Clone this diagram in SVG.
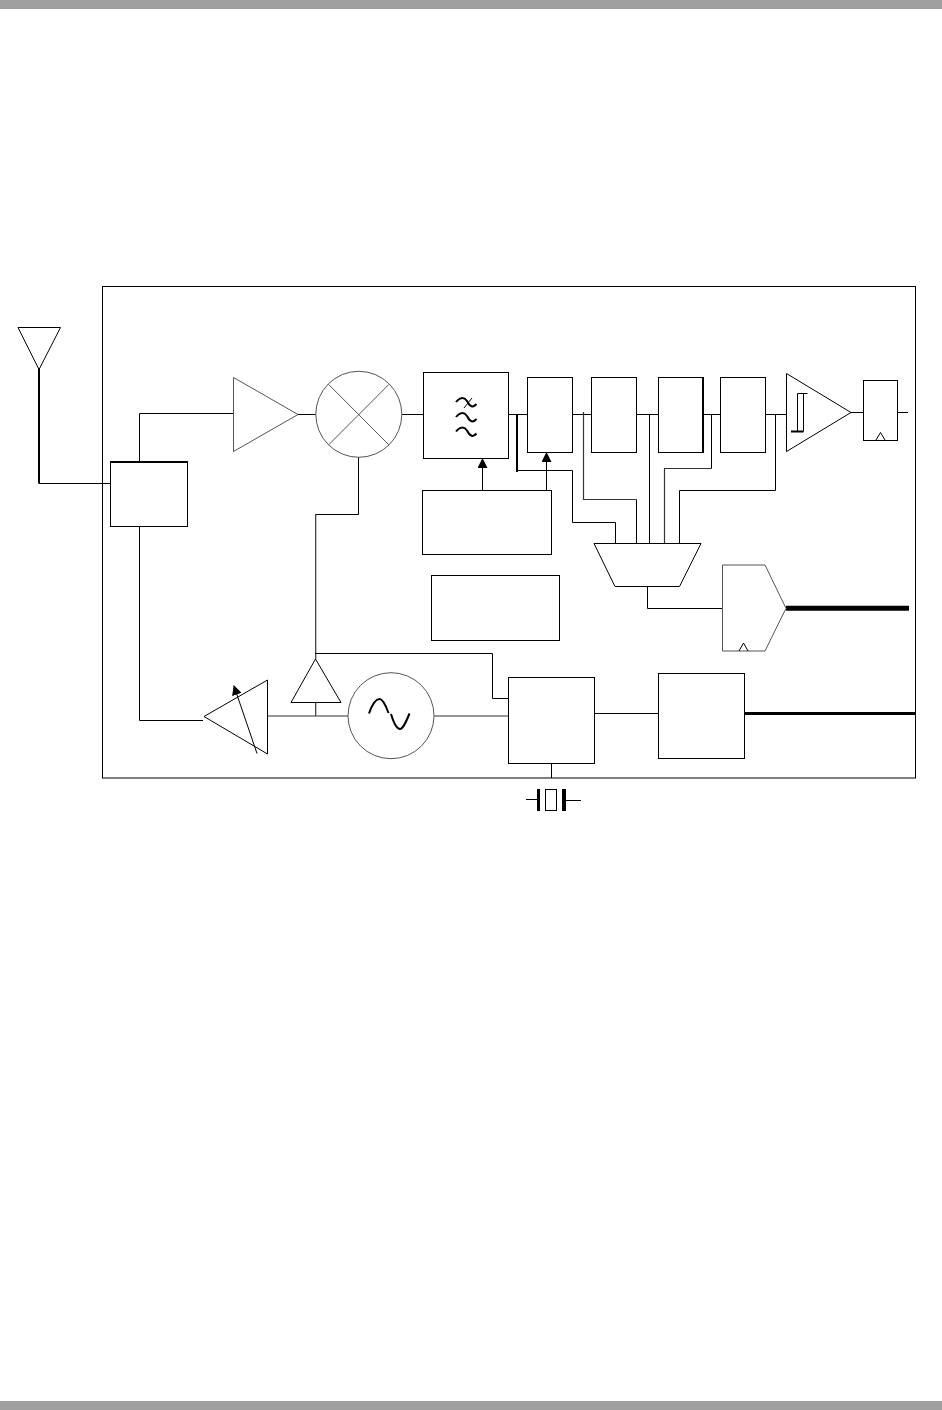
<svg xmlns="http://www.w3.org/2000/svg" width="942" height="1410" viewBox="0 0 942 1410">
<style>
.s{fill:#fff;stroke:#000;stroke-width:1}
.g{fill:#fff;stroke:#555;stroke-width:1}
.w{fill:none;stroke:#000;stroke-width:1}
.t{fill:none;stroke:#000;stroke-width:2}
.m{fill:none;stroke:#333;stroke-width:1.200}
</style>
<defs>
<marker id="ah" markerUnits="userSpaceOnUse" markerWidth="10" markerHeight="10" refX="9" refY="5" orient="auto"><path d="M0 0L10 5L0 10Z" fill="#000"/></marker>
</defs>
<rect id="bar-top" x="0" y="0" width="942" height="9" fill="#a0a0a0"/>
<rect id="bar-bottom" x="0" y="1401" width="942" height="9" fill="#a0a0a0"/>
<g id="chip"><rect x="102.500" y="286.500" width="813" height="491.500" class="s"/></g>
<g id="connectors">
<path class="t" d="M39 369V483.500"/>
<path class="w" d="M39 483.500H110.500"/>
<path class="w" d="M139.500 461V413.500H233.500"/>
<path class="w" d="M298 414.500H316"/>
<path class="w" d="M402 414.500H423.500"/>
<path class="w" d="M358.500 457V514.500H315.500"/>
<path class="m" d="M315.700 514V659"/>
<path class="w" d="M509 414.500H527.500M573 414.500H591.500M637 414.500H658.500M703 414.500H720.500M766 414.500H786.500"/>
<path class="t" d="M517 414V472"/>
<path class="w" d="M517 470.500H572.500V522.500H615.500V543.500"/>
<path class="m" d="M583.500 412V499.500H636.500"/>
<path class="w" d="M636.500 499.500V543.500"/>
<path class="w" d="M649.500 414V543.500"/>
<path class="m" d="M664.500 543.500V468.500H711.500"/>
<path class="w" d="M711.500 468.500V414"/>
<path class="w" d="M679.500 543.500V490.500H775.500V414"/>
<path class="w" d="M647.500 586V608.500H722.500"/>
<path class="w" d="M482.500 490V459" marker-end="url(#ah)"/>
<path class="w" d="M546.500 490V453" marker-end="url(#ah)"/>
<path class="w" d="M851 412.500H863.500M897.500 412.500H908"/>
<path d="M786 608.300H909" fill="none" stroke="#000" stroke-width="5"/>
<path class="w" d="M139.500 526V720.500H203"/>
<path class="m" d="M268 716H348"/>
<path class="m" d="M315.700 703V716"/>
<path class="w" d="M315.500 653.500H492.500V698.500H508.500"/>
<path class="m" d="M434 716H508.500"/>
<path class="w" d="M594.500 713.500H658.500"/>
<path d="M744.500 713.500H915" fill="none" stroke="#000" stroke-width="3"/>
<path class="w" d="M551.500 763.500V778"/>
<path class="w" d="M526 799.500H537M566 800.500H581"/>
</g>
<g id="antenna"><path class="s" d="M18 327.500H60.500L39 369.500Z"/></g>
<g id="duplexer"><rect x="110.500" y="461.500" width="77" height="65" class="s"/><path class="t" d="M110 462H188"/></g>
<g id="lna"><path class="g" d="M233.500 377.500V451.500L298 414.500Z"/></g>
<g id="mixer"><circle cx="358.800" cy="414.300" r="43" class="g"/><path class="g" d="M328.500 384.300L389 445M328.500 445L389 384.300"/></g>
<g id="filter"><rect x="423.500" y="372.500" width="85" height="86" class="s"/>
<path class="t" d="M456 402C460 397 464 397 467 401C470 407 473 408 476.500 404M456 417C460 412 464 412 467 416C470 422 473 423 476.500 419M456 431.500C460 426.500 464 426.500 467 430.500C470 436.500 473 437.500 476.500 433.500"/>
<path class="w" d="M472 398L464 408"/></g>
<g id="stage1"><rect x="527.500" y="377.500" width="45" height="75" class="s"/></g>
<g id="stage2"><rect x="591.500" y="377.500" width="45" height="75" class="s"/></g>
<g id="stage3"><rect x="658.500" y="377.500" width="45" height="75" class="s"/><path class="t" d="M703 377V453"/></g>
<g id="stage4"><rect x="720.500" y="377.500" width="45" height="75" class="s"/></g>
<g id="control"><rect x="422.500" y="490.500" width="129" height="64" class="s"/></g>
<g id="block6"><rect x="431.500" y="575.500" width="128" height="65" class="s"/></g>
<g id="mux"><path class="s" d="M594 543.500H701L679.500 586.500H615Z"/></g>
<g id="comparator"><path class="s" d="M786.500 373.500V451.500L851 412.500Z"/><path class="w" d="M797.500 431.500V393.500H807.500M803.500 393.500V431.500"/><path class="t" d="M791 431.500H803.500"/></g>
<g id="slicer-flop"><rect x="863.500" y="380.500" width="34" height="60" class="s"/><path class="w" d="M876 440L880.500 432.500L885 440"/></g>
<g id="rssi-adc"><path class="g" d="M722.500 565H765L786 608.300L765 651H722.500Z"/><path class="w" d="M739 651L743.500 643L748 651"/></g>
<g id="vga"><path class="s" d="M204 716.500L267.500 680V754Z"/><path class="w" d="M257 753.500L234 686" marker-end="url(#ah)"/></g>
<g id="buffer"><path class="s" d="M315.500 659L341 702.500H291Z"/></g>
<g id="vco"><circle cx="391" cy="715.700" r="43" class="g"/><path class="t" d="M369 713.500C373 702 377 699 379.500 699C383 699 386 706 388.500 713M391 714C394 724 397 729 400 729C403 729 406 722 409.500 713.500"/></g>
<g id="pll"><rect x="508.500" y="677.500" width="86" height="86" class="s"/></g>
<g id="synth"><rect x="658.500" y="673.500" width="86" height="85" class="s"/></g>
<g id="crystal"><rect x="537" y="789" width="3" height="22"/><rect x="545.500" y="789.500" width="11" height="21" class="s"/><rect x="562" y="789" width="4" height="22"/></g>
</svg>
